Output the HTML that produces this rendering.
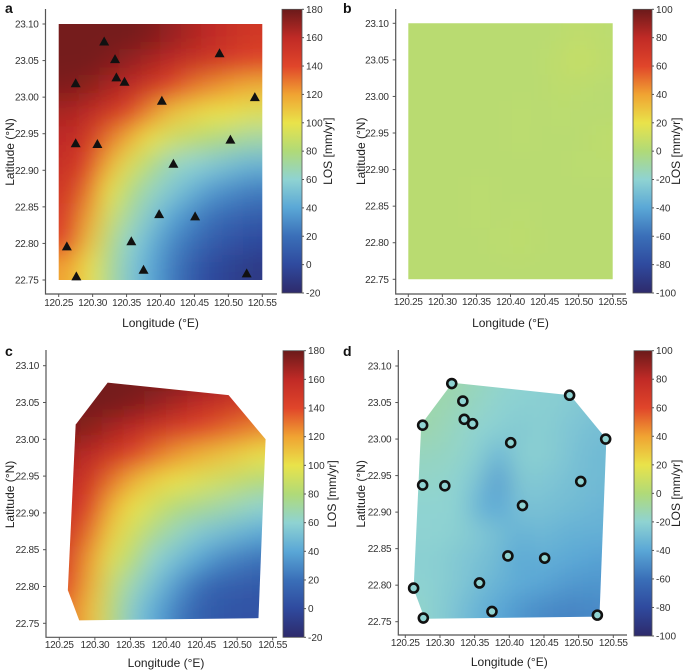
<!DOCTYPE html>
<html><head><meta charset="utf-8"><style>
html,body{margin:0;padding:0;background:#fff;}
svg{display:block;font-family:"Liberation Sans",Arial,sans-serif;}
</style></head><body>
<svg id="fig" width="685" height="671" viewBox="0 0 685 671" xmlns="http://www.w3.org/2000/svg">
<defs>
<filter id="blur" x="-10%" y="-10%" width="120%" height="120%"><feGaussianBlur stdDeviation="12"/></filter>
<linearGradient id="cmap" x1="0" y1="1" x2="0" y2="0">
<stop offset="0" stop-color="#2e2a6b"/><stop offset="0.1" stop-color="#2f4a9e"/>
<stop offset="0.2" stop-color="#3a6fb8"/><stop offset="0.3" stop-color="#5aa7d6"/>
<stop offset="0.4" stop-color="#8fd3d2"/><stop offset="0.5" stop-color="#b0da78"/>
<stop offset="0.6" stop-color="#e9e34a"/><stop offset="0.7" stop-color="#f0a332"/>
<stop offset="0.8" stop-color="#e0452a"/><stop offset="0.9" stop-color="#c02a26"/>
<stop offset="1" stop-color="#6b1a1a"/></linearGradient>
</defs>
</svg>
<script>
// ---- data ----
const lonEdges = [120.25,120.28,120.31,120.34,120.37,120.40,120.43,120.46,120.49,120.52,120.55];
const latEdges = [23.10,23.065,23.03,22.995,22.96,22.925,22.89,22.855,22.82,22.785,22.75];
const lonTicks = [120.25,120.30,120.35,120.40,120.45,120.50,120.55];
const lonTickLabels = ["120.25","120.30","120.35","120.40","120.45","120.50","120.55"];
const latTicks = [23.10,23.05,23.00,22.95,22.90,22.85,22.80,22.75];
const latTickLabels = ["23.10","23.05","23.00","22.95","22.90","22.85","22.80","22.75"];
const cbTicksAC = [-20,0,20,40,60,80,100,120,140,160,180];
const cbTicksBD = [-100,-80,-60,-40,-20,0,20,40,60,80,100];
const valuesA = [
[178,178,178,178,175,170,165,160,155,150],
[178,178,175,170,165,160,155,150,145,140],
[175,172,165,160,150,140,130,125,120,115],
[165,160,150,140,125,110,105,100,100,95],
[160,150,130,115,100,90,85,80,75,70],
[155,140,115,95,80,65,60,55,50,45],
[150,130,100,80,65,55,45,35,30,25],
[145,120,90,70,55,40,30,20,15,10],
[140,110,80,60,45,30,20,10,5,0],
[120,100,75,55,40,25,10,0,-5,-10]];
const valuesB = [
[3,3,3,3,3,3,3,4,6,4],
[3,3,3,3,3,3,3,6,8,5],
[3,3,3,3,3,3,3,5,4,3],
[3,3,3,3,3,4,3,4,3,3],
[3,3,3,3,3,4,3,3,3,5],
[3,3,3,3,3,3,3,3,4,4],
[3,3,3,4,3,3,3,3,3,3],
[3,3,3,4,3,4,3,3,3,3],
[3,3,3,3,4,5,3,3,3,3],
[3,3,3,3,3,3,3,3,3,3]];
const valuesC = [
[178,178,178,178,178,176,172,168,160,150],
[178,178,178,175,170,165,160,155,150,145],
[175,172,165,160,152,145,140,135,130,125],
[165,160,150,140,130,122,115,110,105,100],
[160,150,130,115,105,100,95,90,85,80],
[155,140,115,100,90,80,75,70,65,60],
[150,130,105,90,75,65,55,50,45,40],
[145,120,95,80,60,50,40,30,25,20],
[140,115,85,65,50,35,20,12,10,8],
[130,110,80,55,40,25,12,8,5,5]];
const valuesD = [
[-10,-10,-12,-15,-18,-20,-22,-22,-24,-26],
[-10,-12,-14,-17,-20,-22,-22,-23,-25,-28],
[-12,-13,-17,-20,-22,-25,-22,-25,-28,-30],
[-16,-16,-18,-22,-35,-22,-22,-25,-30,-32],
[-18,-18,-20,-28,-45,-25,-25,-28,-30,-32],
[-20,-20,-20,-35,-40,-28,-28,-30,-32,-34],
[-20,-20,-22,-25,-30,-35,-32,-35,-36,-36],
[-22,-22,-25,-28,-32,-40,-36,-38,-40,-42],
[-20,-22,-25,-30,-35,-38,-40,-44,-46,-46],
[-18,-22,-28,-35,-40,-46,-50,-52,-52,-50]];
const stationLon = [120.317,120.333,120.335,120.347,120.275,120.402,120.487,120.539,120.275,120.307,120.503,120.419,120.398,120.451,120.357,120.262,120.276,120.375,120.527];
const stationLat = [23.076,23.052,23.027,23.021,23.019,22.995,23.060,23.000,22.937,22.936,22.942,22.909,22.840,22.837,22.803,22.796,22.755,22.764,22.759];
const hullLon = [120.318,120.488,120.540,120.530,120.278,120.262,120.273];
const hullLat = [23.077,23.060,23.000,22.757,22.754,22.795,23.020];

// ---- helpers ----
const NS = "http://www.w3.org/2000/svg";
const svg = document.getElementById('fig');
const stops = [[0,[46,42,107]],[0.1,[47,74,158]],[0.2,[58,111,184]],[0.3,[90,167,214]],[0.4,[143,211,210]],[0.5,[176,218,120]],[0.6,[233,227,74]],[0.7,[240,163,50]],[0.8,[224,69,42]],[0.9,[192,42,38]],[1,[107,26,26]]];
function cmap(t){t=Math.max(0,Math.min(1,t));for(let i=1;i<stops.length;i++){if(t<=stops[i][0]){const a=stops[i-1],b=stops[i];const f=(t-a[0])/(b[0]-a[0]);const c=a[1].map((v,k)=>Math.round(v+(b[1][k]-v)*f));return `rgb(${c[0]},${c[1]},${c[2]})`;}}return 'rgb(107,26,26)';}
function mk(tag,attrs,parent){const e=document.createElementNS(NS,tag);for(const k in attrs)e.setAttribute(k,attrs[k]);(parent||svg).appendChild(e);return e;}

const panels = [
 {id:'a',vals:valuesA,vmin:-20,vmax:180,cbt:cbTicksAC,ax:45.5,ab:294,at:9,ar:277,x0:58.7,x1:262.3,yT:24,yB:280,cbx:282,cbw:20,cbT:9.3,cbB:293,lx:5,ly:13,latx:5,losx:332,lony:327,xty:306,hull:false,marker:'tri'},
 {id:'b',vals:valuesB,vmin:-100,vmax:100,cbt:cbTicksBD,ax:395.7,ab:294,at:9,ar:626,x0:408.3,x1:612.7,yT:23.3,yB:279.3,cbx:633,cbw:19,cbT:9.3,cbB:293,lx:343,ly:13,latx:356,losx:680,lony:327,xty:305,hull:false,marker:null},
 {id:'c',vals:valuesC,vmin:-20,vmax:180,cbt:cbTicksAC,ax:46,ab:637.3,at:350,ar:277,x0:59.3,x1:272.7,yT:365.7,yB:623.3,cbx:283,cbw:21,cbT:350.7,cbB:637.3,lx:5,ly:356,latx:5,losx:336,lony:667,xty:648,hull:true,marker:null},
 {id:'d',vals:valuesD,vmin:-100,vmax:100,cbt:cbTicksBD,ax:398.3,ab:635,at:350,ar:627,x0:405.3,x1:613.3,yT:366,yB:621.7,cbx:634,cbw:18,cbT:350.7,cbB:636,lx:343,ly:356,latx:356,losx:680,lony:666,xty:646,hull:true,marker:'circ'}
];

panels.forEach(p=>{
  const X = lon => p.x0 + (lon-120.25)/0.30*(p.x1-p.x0);
  const Y = lat => p.yT + (23.10-lat)/0.35*(p.yB-p.yT);
  const g = mk('g',{});
  
  
  const cp = mk('clipPath',{id:'clip-'+p.id},g);
  if(p.hull){
    mk('polygon',{points:hullLon.map((lo,i)=>X(lo)+','+Y(hullLat[i])).join(' ')},cp);
  } else {
    mk('rect',{x:X(120.25),y:Y(23.10),width:X(120.55)-X(120.25),height:Y(22.75)-Y(23.10)},cp);
  }
  const clipG = mk('g',{'clip-path':`url(#clip-${p.id})`},g);
  
  
  const heat = mk('g',{filter:'url(#blur)'},clipG);
  for(let r=0;r<p.vals.length;r++){
    for(let c=0;c<p.vals[r].length;c++){
      let xa=X(lonEdges[c]),xb=X(lonEdges[c+1]),ya=Y(latEdges[r]),yb=Y(latEdges[r+1]);
      if(c===0)xa-=30; if(c===p.vals[r].length-1)xb+=30;
      if(r===0)ya-=30; if(r===p.vals.length-1)yb+=30;
      const cell=mk('rect',{x:xa,y:ya,width:xb-xa+0.5,height:yb-ya+0.5,fill:cmap((p.vals[r][c]-p.vmin)/(p.vmax-p.vmin))},heat);
      
      
    }
  }
  const axes = mk('path',{d:`M${p.ax},${p.at}V${p.ab}H${p.ar}`,stroke:'#555',fill:'none','stroke-width':1.2},g);
  
  
  lonTicks.forEach((lo,i)=>{
    mk('line',{x1:X(lo),x2:X(lo),y1:p.ab,y2:p.ab+3,stroke:'#555'},g);
    const t=mk('text',{x:X(lo),y:p.xty,'font-size':10,'text-anchor':'middle',fill:'#333','letter-spacing':'-0.3'},g);
    t.textContent=lonTickLabels[i];
    
    
  });
  latTicks.forEach((la,i)=>{
    mk('line',{x1:p.ax-3,x2:p.ax,y1:Y(la),y2:Y(la),stroke:'#555'},g);
    const t=mk('text',{x:p.ax-7,y:Y(la)+3.5,'font-size':10,'text-anchor':'end',fill:'#333','letter-spacing':'-0.3'},g);
    t.textContent=latTickLabels[i];
    
    
  });
  const xt=mk('text',{x:(p.x0+p.x1)/2,y:p.lony,'font-size':12,'text-anchor':'middle',fill:'#222'},g);
  xt.textContent='Longitude (°E)';
  
  
  const ym=(p.yT+p.yB)/2;
  const yt=mk('text',{x:p.latx,y:ym,'font-size':12,'text-anchor':'middle',fill:'#222',transform:`rotate(-90 ${p.latx} ${ym})`,dy:9},g);
  yt.textContent='Latitude (°N)';
  
  
  const pl=mk('text',{x:p.lx,y:p.ly,'font-size':14,'font-weight':'bold',fill:'#111'},g);
  pl.textContent=p.id;
  
  
  const cb=mk('rect',{x:p.cbx,y:p.cbT,width:p.cbw,height:p.cbB-p.cbT,fill:'url(#cmap)',stroke:'#555','stroke-width':0.8},g);
  
  
  const CY = v => p.cbB - (v-p.vmin)/(p.vmax-p.vmin)*(p.cbB-p.cbT);
  p.cbt.forEach(v=>{
    mk('line',{x1:p.cbx+p.cbw,x2:p.cbx+p.cbw+2,y1:CY(v),y2:CY(v),stroke:'#555'},g);
    const t=mk('text',{x:p.cbx+p.cbw+4,y:CY(v)+3.5,'font-size':10,fill:'#333'},g);
    t.textContent=String(v);
    
    
  });
  const cm=(p.cbT+p.cbB)/2;
  const ct=mk('text',{x:p.losx,y:cm,'font-size':12,'text-anchor':'middle',fill:'#222',transform:`rotate(-90 ${p.losx} ${cm})`},g);
  ct.textContent='LOS [mm/yr]';
  
  
  if(p.marker){
    stationLon.forEach((lo,i)=>{
      const x=X(lo),y=Y(stationLat[i]);
      let m;
      if(p.marker==='tri'){
        m=mk('polygon',{points:`${x},${y-5} ${x-5},${y+4} ${x+5},${y+4}`,fill:'#111'},g);
      } else {
        m=mk('circle',{cx:x,cy:y,r:4.5,fill:'#8fd3d2',stroke:'#111','stroke-width':2.6},g);
      }
      
      
    });
  }
});
</script>
</body></html>
